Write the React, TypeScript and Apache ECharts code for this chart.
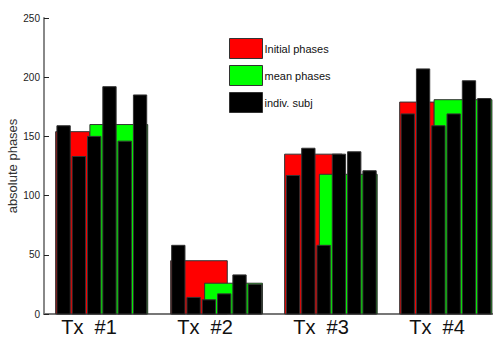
import React, { useEffect, useRef } from "react";
import * as echarts from "echarts";

// ---- data ----
const groups = ["Tx  #1", "Tx  #2", "Tx  #3", "Tx  #4"];
const initialPhases = [154, 45, 135, 179];
const meanPhases = [160, 26, 118, 181];
const indivTx1 = [159, 133, 150, 192, 146, 185];
const indivTx2 = [58, 14, 12, 17, 33, 25];
const indivTx3 = [117, 140, 58, 135, 137, 121];
const indivTx4 = [169, 207, 159, 169, 197, 182];
const indivSubj = [indivTx1, indivTx2, indivTx3, indivTx4];
const yTicks = [0, 50, 100, 150, 200, 250];

// ---- layout (slot units along the x value axis) ----
const FIRST = 1.28;
const STEP = 7.5;
const BW = 0.87;
const redSpans = [
  [-0.52, 1.7],
  [-0.5, 3.2],
  [-0.55, 3.2],
  [-0.53, 1.73],
];
const greenSpan = [1.72, 5.5];
const X_MAX = 29.35;

const NARROW = "'Liberation Sans Narrow', 'Liberation Sans', Arial, sans-serif";
const ARIAL = "'Liberation Sans', Arial, sans-serif";

function rectItem(color: string) {
  return (params: any, api: any) => {
    const x0 = api.value(0);
    const x1 = api.value(1);
    const v = api.value(2);
    const p0 = api.coord([x0, v]);
    const p1 = api.coord([x1, 0]);
    return {
      type: "rect",
      shape: { x: p0[0], y: p0[1], width: p1[0] - p0[0], height: p1[1] - p0[1] },
      style: { fill: color, stroke: "#333", lineWidth: 1 },
    };
  };
}

export default function App() {
  const ref = useRef<HTMLDivElement>(null);
  useEffect(() => {
    if (!ref.current) return;
    const chart = echarts.init(ref.current, undefined, { renderer: "svg" });

    const redData = initialPhases.map((v, g) => [
      FIRST + STEP * g + redSpans[g][0],
      FIRST + STEP * g + redSpans[g][1],
      v,
    ]);
    const greenData = meanPhases.map((v, g) => [
      FIRST + STEP * g + greenSpan[0],
      FIRST + STEP * g + greenSpan[1],
      v,
    ]);
    const blackData: number[][] = [];
    indivSubj.forEach((arr, g) =>
      arr.forEach((v, k) => {
        const c = FIRST + STEP * g + k;
        blackData.push([c - BW / 2, c + BW / 2, v]);
      })
    );

    chart.setOption({
      animation: false,
      backgroundColor: "#fff",
      grid: [
        { left: 44, top: 18, width: 449, height: 296, outerBoundsMode: "none", containLabel: false },
        { left: 31, top: 18, width: 464, height: 296, outerBoundsMode: "none", containLabel: false },
      ],
      xAxis: [
        {
          type: "value",
          gridIndex: 0,
          min: 0,
          max: X_MAX,
          axisLine: { show: true, lineStyle: { color: "#777", width: 2 } },
          axisTick: { show: false },
          axisLabel: { show: false },
          splitLine: { show: false },
        },
        {
          type: "category",
          gridIndex: 1,
          data: groups,
          axisLine: { show: false },
          axisTick: { show: false },
          splitLine: { show: false },
          axisLabel: {
            fontSize: 20,
            fontFamily: ARIAL,
            color: "#111",
            margin: 3,
          },
        },
      ],
      yAxis: [
        {
          type: "value",
          gridIndex: 0,
          min: yTicks[0],
          max: yTicks[yTicks.length - 1],
          interval: 50,
          name: "absolute phases",
          nameLocation: "middle",
          nameRotate: 90,
          nameGap: 25,
          nameMoveOverlap: false,
          nameTextStyle: { fontSize: 13, fontFamily: ARIAL, color: "#333" },
          axisLine: { show: true, lineStyle: { color: "#888", width: 2 } },
          axisTick: { show: true, inside: true, length: 5, lineStyle: { color: "#222" } },
          axisLabel: { fontSize: 10, fontFamily: NARROW, color: "#222", margin: 4 },
          splitLine: { show: false },
        },
        { type: "value", gridIndex: 1, show: false, min: 0, max: 250 },
      ],
      legend: {
        orient: "vertical",
        left: 229,
        top: 38,
        padding: 0,
        itemWidth: 33,
        itemHeight: 20,
        itemGap: 6,
        textStyle: { fontSize: 11, fontFamily: NARROW, color: "#111", padding: [0, 0, 0, -3] },
        data: [
          { name: "Initial phases", icon: "rect", itemStyle: { color: "#ff0000", borderColor: "#333", borderWidth: 1 } },
          { name: "mean phases", icon: "rect", itemStyle: { color: "#00ff00", borderColor: "#333", borderWidth: 1 } },
          { name: "indiv. subj", icon: "rect", itemStyle: { color: "#000", borderColor: "#333", borderWidth: 1 } },
        ],
      },
      series: [
        {
          name: "Initial phases",
          type: "custom",
          xAxisIndex: 0,
          yAxisIndex: 0,
          itemStyle: { color: "#ff0000" },
          encode: { x: [0, 1], y: 2 },
          renderItem: rectItem("#ff0000"),
          data: redData,
          z: 1,
        },
        {
          name: "mean phases",
          type: "custom",
          xAxisIndex: 0,
          yAxisIndex: 0,
          itemStyle: { color: "#00ff00" },
          encode: { x: [0, 1], y: 2 },
          renderItem: rectItem("#00ff00"),
          data: greenData,
          z: 2,
        },
        {
          name: "indiv. subj",
          type: "custom",
          xAxisIndex: 0,
          yAxisIndex: 0,
          itemStyle: { color: "#000" },
          encode: { x: [0, 1], y: 2 },
          renderItem: rectItem("#000"),
          data: blackData,
          z: 3,
        },
      ],
    });
    return () => chart.dispose();
  }, []);
  return (
    <div
      ref={ref}
      style={{ position: "fixed", left: 0, top: 0, width: 493, height: 337 }}
    />
  );
}
